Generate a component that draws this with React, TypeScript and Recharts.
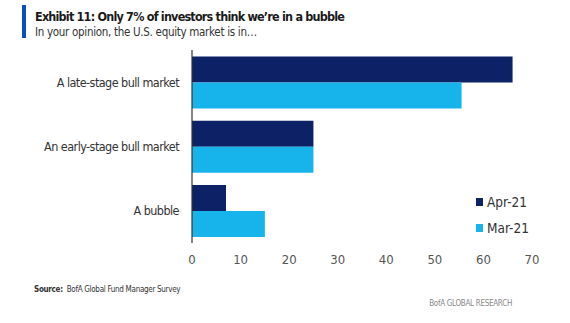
import React from "react";
import { BarChart, Bar, XAxis, YAxis } from "recharts";

const categories = ["A late-stage bull market", "An early-stage bull market", "A bubble"];
const apr21 = [66, 25, 7];
const mar21 = [55.5, 25, 15];
const xTicks = [0, 10, 20, 30, 40, 50, 60, 70];

const NAVY = "#0c2166";
const CYAN = "#17b4ec";
const FONT = '"DejaVu Sans Condensed", "Liberation Sans", sans-serif';

const data = categories.map((name, i) => ({ name, apr: apr21[i], mar: mar21[i] }));

const legendItems = [
  { label: "Apr-21", color: NAVY },
  { label: "Mar-21", color: CYAN },
];

export default function App() {
  return (
    <div
      style={{
        position: "fixed",
        left: 0,
        top: 0,
        width: 570,
        height: 323,
        background: "#fff",
        fontFamily: FONT,
        color: "#222",
      }}
    >
      {/* title block */}
      <div style={{ position: "absolute", left: 22, top: 5, width: 4, height: 33, background: "#0a4fc0" }} />
      <div
        style={{
          position: "absolute",
          left: 35,
          top: 9,
          fontSize: 12.5,
          fontWeight: 700,
          letterSpacing: -0.8,
          color: "#1a1a1a",
          whiteSpace: "nowrap",
          lineHeight: "15px",
        }}
      >
        Exhibit 11: Only 7% of investors think we’re in a bubble
      </div>
      <div
        style={{
          position: "absolute",
          left: 35,
          top: 25,
          fontSize: 11.5,
          letterSpacing: -0.3,
          color: "#333",
          whiteSpace: "nowrap",
          lineHeight: "14px",
        }}
      >
        In your opinion, the U.S. equity market is in…
      </div>

      <div style={{ position: "absolute", left: 0, top: 0 }}>
        <BarChart
          width={570}
          height={276}
          data={data}
          layout="vertical"
          margin={{ top: 50, right: 38, left: 0, bottom: 0 }}
          barCategoryGap="10%"
          barGap={0}
        >
          <XAxis
            type="number"
            domain={[0, 70]}
            ticks={xTicks}
            height={33}
            axisLine={false}
            tickLine={false}
            tickMargin={6}
            tick={{ fontSize: 13, fill: "#555", fontFamily: FONT }}
          />
          <YAxis
            type="category"
            dataKey="name"
            width={192}
            tickLine={false}
            tickMargin={7}
            axisLine={{ stroke: "#333", strokeWidth: 1.2 }}
            tick={{ fontSize: 12.5, fill: "#333", fontFamily: FONT, letterSpacing: -0.55 }}
          />
          <Bar dataKey="apr" name="Apr-21" fill={NAVY} isAnimationActive={false} />
          <Bar dataKey="mar" name="Mar-21" fill={CYAN} isAnimationActive={false} />
        </BarChart>
      </div>

      {/* legend */}
      {legendItems.map((it, i) => (
        <div
          key={it.label}
          style={{
            position: "absolute",
            left: 476,
            top: 194 + i * 26,
            display: "flex",
            alignItems: "center",
            fontSize: 13.5,
            color: "#333",
          }}
        >
          <span style={{ display: "inline-block", width: 7, height: 8, background: it.color, marginRight: 4 }} />
          {it.label}
        </div>
      ))}

      <div
        style={{
          position: "absolute",
          left: 34,
          top: 285,
          fontSize: 8,
          letterSpacing: -0.3,
          color: "#333",
          whiteSpace: "nowrap",
        }}
      >
        <b>Source:</b>&nbsp; BofA Global Fund Manager Survey
      </div>
      <div
        style={{
          position: "absolute",
          right: 58,
          top: 299,
          fontSize: 8,
          letterSpacing: -0.3,
          color: "#888",
          whiteSpace: "nowrap",
        }}
      >
        BofA GLOBAL RESEARCH
      </div>
    </div>
  );
}
